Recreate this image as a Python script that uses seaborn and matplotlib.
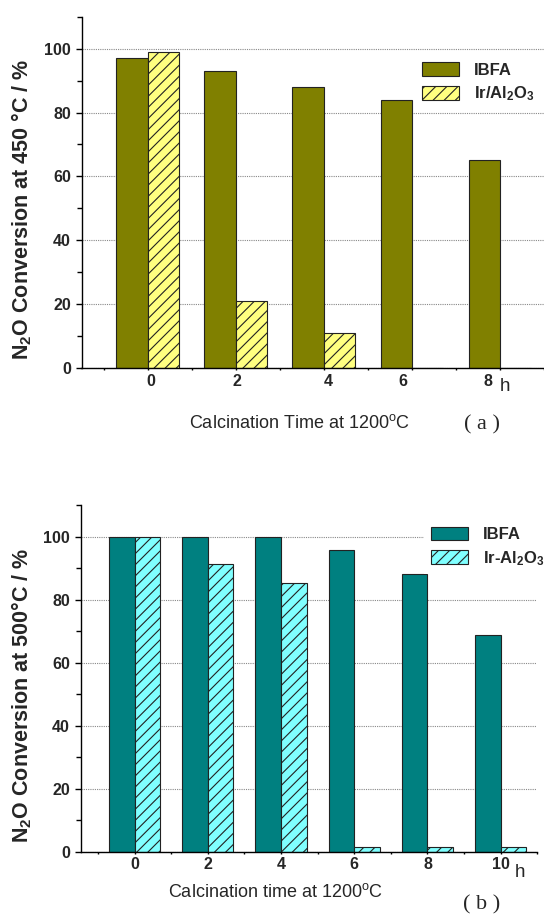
import numpy as np
import pandas as pd
import matplotlib
matplotlib.use("Agg")
import matplotlib.pyplot as plt
import seaborn as sns
from matplotlib.ticker import MultipleLocator, FixedLocator
from matplotlib.transforms import ScaledTranslation, blended_transform_factory

# data
hours_a = ["0", "2", "4", "6", "8"]
ibfa_a = [97, 93, 88, 84, 65]
ir_a = [99, 21, 11, 0, 0]

hours_b = ["0", "2", "4", "6", "8", "10"]
ibfa_b = [100, 100, 100, 95.6, 88, 68.8]
ir_b = [100, 91.2, 85.3, 1.4, 1.4, 1.4]

sns.set_style("ticks")
plt.rcParams['font.family'] = ['Liberation Sans', 'DejaVu Sans']
plt.rcParams['mathtext.default'] = 'regular'
plt.rcParams['hatch.linewidth'] = 0.8


def long_form(hours, ibfa, ir, ir_name):
    return pd.DataFrame({
        "hour": hours + hours,
        "conv": ibfa + ir,
        "cat": ["IBFA"] * len(hours) + [ir_name] * len(hours),
    })


def draw_panel(ax, df, names, colors, width, xlim, ylab, xlab, xlab_pos, leg_anchor):
    sns.barplot(data=df, x="hour", y="conv", hue="cat", hue_order=names,
                palette=dict(zip(names, colors)), width=width, saturation=1,
                edgecolor="#222222", linewidth=0.8, errorbar=None,
                legend=False, ax=ax)
    for bar in ax.containers[1]:
        bar.set_hatch("///")

    ax.set_xlim(*xlim)
    ax.set_ylim(0, 110)
    ax.set_yticks(np.arange(0, 101, 20))
    ax.yaxis.set_minor_locator(MultipleLocator(10))
    n = df["hour"].nunique()
    ax.xaxis.set_minor_locator(FixedLocator(np.arange(-0.5, n, 1)))
    ax.set_axisbelow(True)
    ax.yaxis.grid(True, which="major", linestyle=(0, (1, 1)), color="#888888", linewidth=0.8)

    for side in ["top", "right"]:
        ax.spines[side].set_visible(False)
    for side in ["left", "bottom"]:
        ax.spines[side].set_linewidth(1.0)
        ax.spines[side].set_color("black")

    ax.tick_params(axis="y", which="major", direction="out", length=4.3, width=1, pad=3.2,
                   labelsize=11.5, color="black")
    ax.tick_params(axis="y", which="minor", direction="out", length=3.5, width=1, color="black")
    ax.tick_params(axis="x", which="both", direction="out", length=1.6, width=1, pad=2.5,
                   labelsize=11.5, color="black")
    for lbl in ax.get_yticklabels() + ax.get_xticklabels():
        lbl.set_fontweight("bold")

    ax.set_ylabel(ylab, fontsize=15.5, fontweight="bold")
    ax.yaxis.set_label_coords(-0.129, 0.45)
    ax.yaxis.label.set_va("center")
    ax.set_xlabel(xlab, fontsize=13)
    ax.xaxis.set_label_coords(*xlab_pos)
    ax.xaxis.label.set_va("center")

    ax.legend(handles=list(ax.containers), labels=names, loc="upper left",
              bbox_to_anchor=leg_anchor, prop={"weight": "bold", "size": 12},
              handlelength=2.2, handleheight=0.9, handletextpad=0.9,
              labelspacing=0.4, borderpad=0.4, borderaxespad=0,
              frameon=True, fancybox=False, edgecolor="none",
              facecolor="white", framealpha=1)


fig = plt.figure(figsize=(5.44, 9.15), dpi=100)
W, H = 544, 915
ax1 = fig.add_axes([81.5 / W, 1 - 368 / H, 462.5 / W, 351.3 / H])
ax2 = fig.add_axes([80.5 / W, 1 - 851.7 / H, 456.8 / W, 346.7 / H])

names_a = ["IBFA", "Ir/Al$_2$O$_3$"]
draw_panel(ax1, long_form(hours_a, ibfa_a, ir_a, names_a[1]), names_a,
           ["#808000", "#FFFF80"], 0.71, (-0.75, 4.5),
           "N$_2$O Conversion at 450 °C / %", "Calcination Time at 1200$^o$C",
           (0.472, -0.157), (0.722, 0.89))

names_b = ["IBFA", "Ir-Al$_2$O$_3$"]
draw_panel(ax2, long_form(hours_b, ibfa_b, ir_b, names_b[1]), names_b,
           ["#008080", "#80FFFF"], 0.70, (-0.74, 5.5),
           "N$_2$O Conversion at 500°C / %", "Calcination time at 1200$^o$C",
           (0.428, -0.115), (0.753, 0.957))

# the top panel's tick labels sit a little off their ticks in the original
for lbl, dx in zip(ax1.get_xticklabels(), [3.4, 1.7, 4.4, -8.8, -12.2]):
    lbl.set_transform(lbl.get_transform() + ScaledTranslation(dx / 100, 0, fig.dpi_scale_trans))

# unit "h" after the last tick label
ax1.text(4.057, -0.053, "h", fontsize=13.5, ha="center", va="center",
         transform=blended_transform_factory(ax1.transData, ax1.transAxes))
ax2.text(5.26, -0.061, "h", fontsize=13.5, ha="center", va="center",
         transform=blended_transform_factory(ax2.transData, ax2.transAxes))

fig.text(482 / W, 1 - 425 / H, "( a )", fontsize=16, family="Liberation Serif",
         ha="center", va="center")
fig.text(482 / W, 1 - 905 / H, "( b )", fontsize=16, family="Liberation Serif",
         ha="center", va="center")

fig.savefig("out.png", dpi=100)
